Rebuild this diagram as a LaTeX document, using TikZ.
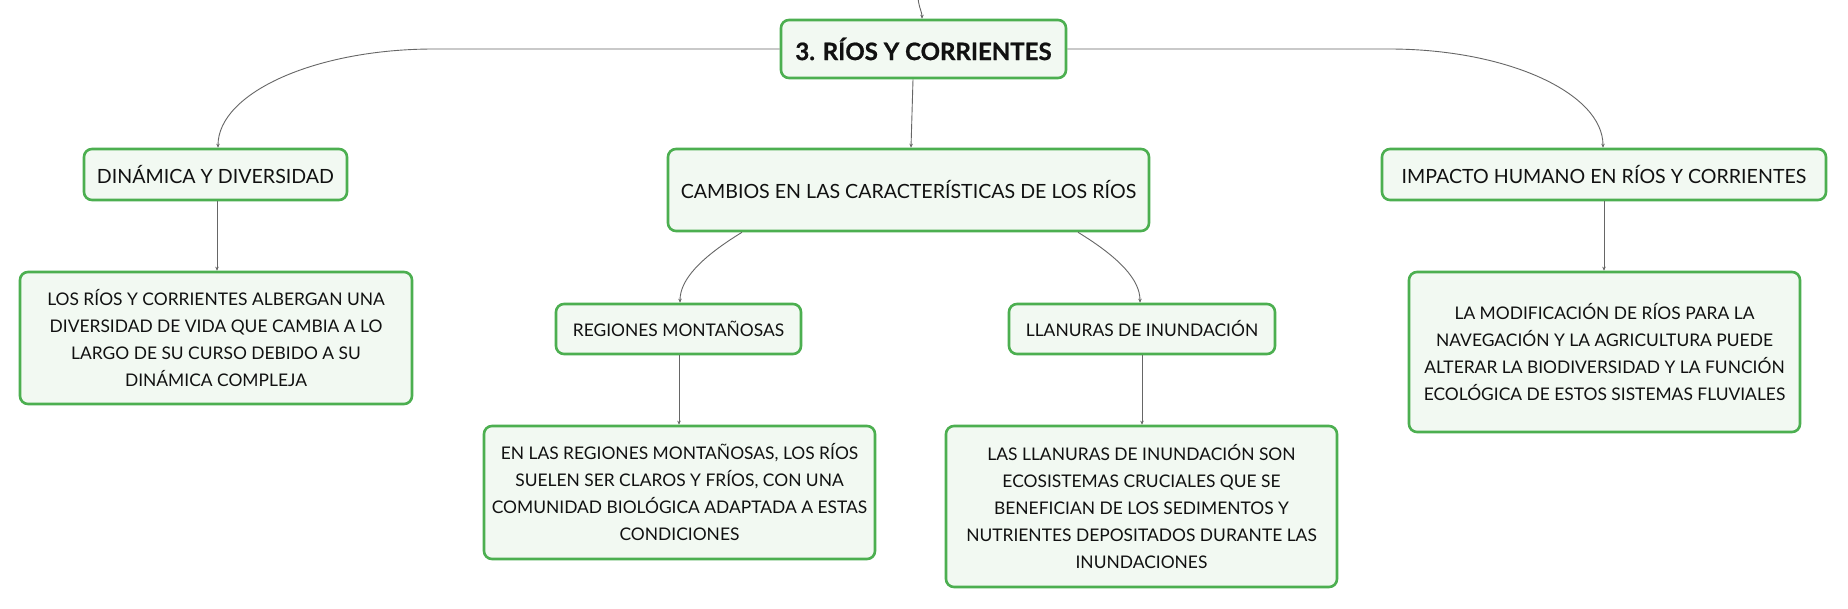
\documentclass[tikz,border=0pt]{standalone}
\usepackage{fontspec}
\setmainfont{Lato}
\usetikzlibrary{arrows.meta}
\definecolor{boxgreen}{HTML}{4CAF50}
\definecolor{boxfill}{HTML}{F2F9F2}
\definecolor{linegray}{HTML}{666666}
\definecolor{txt}{HTML}{111111}
\begin{document}
\begin{tikzpicture}[x=1pt,y=-1pt,
  box/.style={draw=boxgreen, line width=2.6pt, fill=boxfill, rounded corners=8pt,
    text=txt, align=center, inner sep=0pt, font=\fontsize{19.6}{27}\selectfont},
  detbox/.style={box, font=\fontsize{17.4}{27}\selectfont},
  rootbox/.style={box, font=\fontsize{24}{30}\selectfont\bfseries\addfontfeatures{FakeBold=0.8}},
  conn/.style={draw=linegray, line width=0.9pt, -{Stealth[length=4pt,width=3.5pt]}}]
\fill[white] (0,0) rectangle (1848,609);
\useasboundingbox (0,0) rectangle (1848,609);

\node[rootbox, minimum width=285pt, minimum height=58pt] (root) at (923.5,49) {3. RÍOS Y CORRIENTES};

\node[box, minimum width=263pt, minimum height=51pt] (dyn) at (215.5,174.5) {DINÁMICA Y DIVERSIDAD};
\node[detbox, minimum width=392pt, minimum height=132pt] (dyndet) at (216,338)
  {LOS RÍOS Y CORRIENTES ALBERGAN UNA\\DIVERSIDAD DE VIDA QUE CAMBIA A LO\\LARGO DE SU CURSO DEBIDO A SU\\DINÁMICA COMPLEJA};

\node[box, minimum width=481pt, minimum height=82pt] (camb) at (908.5,190) {CAMBIOS EN LAS CARACTERÍSTICAS DE LOS RÍOS};

\node[detbox, minimum width=245pt, minimum height=50pt] (reg) at (678.5,329) {REGIONES MONTAÑOSAS};
\node[detbox, minimum width=391pt, minimum height=133pt] (regdet) at (679.5,492.5)
  {EN LAS REGIONES MONTAÑOSAS, LOS RÍOS\\SUELEN SER CLAROS Y FRÍOS, CON UNA\\COMUNIDAD BIOLÓGICA ADAPTADA A ESTAS\\CONDICIONES};

\node[detbox, minimum width=266pt, minimum height=50pt] (lla) at (1142,329) {LLANURAS DE INUNDACIÓN};
\node[detbox, minimum width=391pt, minimum height=161pt] (lladet) at (1141.5,506.5)
  {LAS LLANURAS DE INUNDACIÓN SON\\ECOSISTEMAS CRUCIALES QUE SE\\BENEFICIAN DE LOS SEDIMENTOS Y\\NUTRIENTES DEPOSITADOS DURANTE LAS\\INUNDACIONES};

\node[box, minimum width=444pt, minimum height=51pt] (imp) at (1604,174.5) {IMPACTO HUMANO EN RÍOS Y CORRIENTES};
\node[detbox, minimum width=391pt, minimum height=160pt] (impdet) at (1604.5,352)
  {LA MODIFICACIÓN DE RÍOS PARA LA\\NAVEGACIÓN Y LA AGRICULTURA PUEDE\\ALTERAR LA BIODIVERSIDAD Y LA FUNCIÓN\\ECOLÓGICA DE ESTOS SISTEMAS FLUVIALES};

\coordinate (top) at (918,-2);

% connectors
\draw[conn] (top) .. controls (919,8) and (922,12) .. ([xshift=-1.5pt]root.north);
\draw[conn] ([xshift=-10.5pt]root.south) -- ([xshift=2.5pt]camb.north);
\draw[conn] (root.west) -- (434,49) .. controls (315,49) and ([xshift=2.5pt]dyn.north |- 0,93) .. ([xshift=2.5pt]dyn.north);
\draw[conn] (root.east) -- (1389,49) .. controls (1507,49) and ([xshift=-1pt]imp.north |- 0,93) .. ([xshift=-1pt]imp.north);
\draw[conn] ([xshift=1.5pt]dyn.south) -- ([xshift=1pt]dyndet.north);
\draw[conn] (camb.south -| 742,0) .. controls (700,258) and (680,280) .. ([xshift=1.5pt]reg.north);
\draw[conn] (camb.south -| 1078,0) .. controls (1120,258) and (1140,280) .. ([xshift=-2pt]lla.north);
\draw[conn] ([xshift=0.5pt]reg.south) -- ([xshift=-0.5pt]regdet.north);
\draw[conn] (lla.south) -- ([xshift=0.5pt]lladet.north);
\draw[conn] (imp.south) -- ([xshift=-0.5pt]impdet.north);
\end{tikzpicture}
\end{document}
